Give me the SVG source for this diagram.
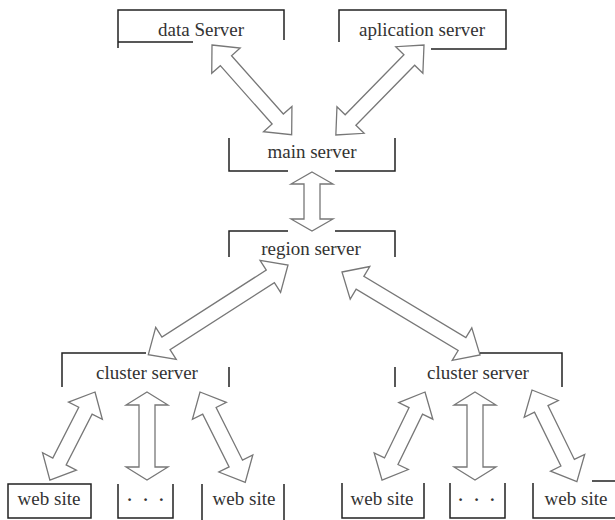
<svg xmlns="http://www.w3.org/2000/svg" width="615" height="520" viewBox="0 0 615 520">
<style>
.br{fill:none;stroke:#222;stroke-width:1.5}
.ar{fill:#fff;stroke:#777;stroke-width:1.3;stroke-linejoin:miter}
text{font-family:"Liberation Serif","Times New Roman",serif;font-size:19px;fill:#333;text-anchor:middle}
.dots{font-size:17px;font-weight:bold;letter-spacing:3px}
</style>
<rect width="615" height="520" fill="#fff"/>
<g id="connectors">
<polygon class="ar" transform="translate(212,45) rotate(48.4)" points="0,0 21,-19 21,-7.5 99,-7.5 99,-19 120,0 99,19 99,7.5 21,7.5 21,19"/>
<polygon class="ar" transform="translate(424,45) rotate(134.4)" points="0,0 21,-19 21,-7.5 105,-7.5 105,-19 126,0 105,19 105,7.5 21,7.5 21,19"/>
<polygon class="ar" transform="translate(312,172) rotate(90)" points="0,0 12,-21 12,-8 47,-8 47,-21 59,0 47,21 47,8 12,8 12,21"/>
<polygon class="ar" transform="translate(288,265) rotate(147.3)" points="0,0 21,-19 21,-7.5 145,-7.5 145,-19 166,0 145,19 145,7.5 21,7.5 21,19"/>
<polygon class="ar" transform="translate(342,272) rotate(31)" points="0,0 21,-19 21,-7.5 140,-7.5 140,-19 161,0 140,19 140,7.5 21,7.5 21,19"/>
<polygon class="ar" transform="translate(95,392) rotate(117.1)" points="0,0 21,-19 21,-7.5 78,-7.5 78,-19 99,0 78,19 78,7.5 21,7.5 21,19"/>
<polygon class="ar" transform="translate(147,392) rotate(90)" points="0,0 13,-21 13,-8 75,-8 75,-21 88,0 75,21 75,8 13,8 13,21"/>
<polygon class="ar" transform="translate(200,392) rotate(63.4)" points="0,0 21,-19 21,-7.5 80,-7.5 80,-19 101,0 80,19 80,7.5 21,7.5 21,19"/>
<polygon class="ar" transform="translate(425,392) rotate(116)" points="0,0 21,-19 21,-7.5 77,-7.5 77,-19 98,0 77,19 77,7.5 21,7.5 21,19"/>
<polygon class="ar" transform="translate(475,392) rotate(90)" points="0,0 13,-21 13,-8 75,-8 75,-21 88,0 75,21 75,8 13,8 13,21"/>
<polygon class="ar" transform="translate(532,390) rotate(63.9)" points="0,0 21,-19 21,-7.5 81,-7.5 81,-19 102,0 81,19 81,7.5 21,7.5 21,19"/>
</g>
<g id="data-server"><path class="br" d="M118,48 V10 H284 V40 M118,42 H193"/><text x="201" y="36">data Server</text></g>
<g id="aplication-server"><path class="br" d="M339,42 V10 H506 V49 H431"/><text x="422" y="36">aplication server</text></g>
<g id="main-server"><path class="br" d="M229,138 V171 H288 M335,171 H395 V138"/><text x="312" y="158">main server</text></g>
<g id="region-server"><path class="br" d="M229,257 V231 H288 M335,231 H395 V257"/><text x="311" y="255">region server</text></g>
<g id="cluster-server-left"><path class="br" d="M62,387 V353 H146 M229,367 V387"/><text x="147" y="379">cluster server</text></g>
<g id="cluster-server-right"><path class="br" d="M395,367 V387 M480,353 H562 V387"/><text x="478" y="379">cluster server</text></g>
<g id="web-site-1"><path class="br" d="M8,484 H91 V518 H8 Z"/><text x="49" y="505">web site</text></g>
<g id="dots-1"><path class="br" d="M118,484 V518 H173 V484"/><text class="dots" x="147" y="505">· · ·</text></g>
<g id="web-site-2"><path class="br" d="M202,484 V520 M284,484 V520"/><text x="244" y="505">web site</text></g>
<g id="web-site-3"><path class="br" d="M342,483 V518 H424 V483"/><text x="382" y="505">web site</text></g>
<g id="dots-2"><path class="br" d="M450,483 V518 H505 V483"/><text class="dots" x="478" y="505">· · ·</text></g>
<g id="web-site-4"><path class="br" d="M533,483 V518 H615 M592,481 H615"/><text x="576" y="505">web site</text></g>
</svg>
